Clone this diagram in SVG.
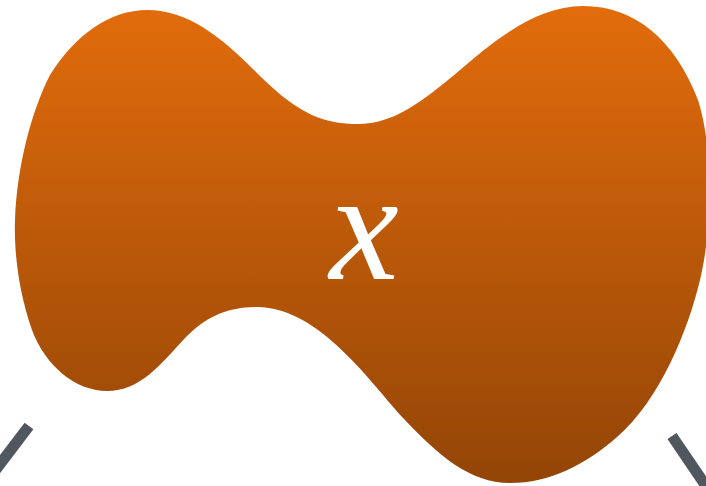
<svg xmlns="http://www.w3.org/2000/svg" width="706" height="486" viewBox="0 0 706 486">
<defs>
<linearGradient id="g" x1="0" y1="0" x2="0" y2="1">
<stop offset="0" stop-color="#E26C0C"/>
<stop offset="1" stop-color="#934506"/>
</linearGradient>
<style>
.edge{stroke:#50575F;stroke-width:11;fill:none;stroke-linecap:butt}
.lbl{font-family:"Liberation Serif",serif;font-style:italic;fill:#fff;font-size:156px;text-anchor:middle}
</style>
</defs>
<rect width="706" height="486" fill="#fff"/>
<g id="connectors">
<line class="edge" x1="29" y1="426" x2="-12" y2="480"/>
<line class="edge" x1="672" y1="436" x2="710" y2="492"/>
</g>
<g id="node-x">
<path fill="url(#g)" d="M147,10 C190,10 225,40 262,78 C300,115 325,124 358,124 C392,124 420,104 460,70 C500,35 540,6 583,6 C635,6 675,40 698,100 C714,150 712,230 700,280 C688,330 660,400 617,437 C585,465 550,483 510,483 C470,483 438,455 405,420 C372,385 320,307 257,307 C225,307 205,318 185,338 C160,365 140,391 107,391 C75,391 45,365 32,330 C18,290 14,250 15,220 C17,165 32,110 50,75 C75,35 110,10 147,10 Z"/>
<text class="lbl" x="364" y="279">x</text>
</g>
</svg>
